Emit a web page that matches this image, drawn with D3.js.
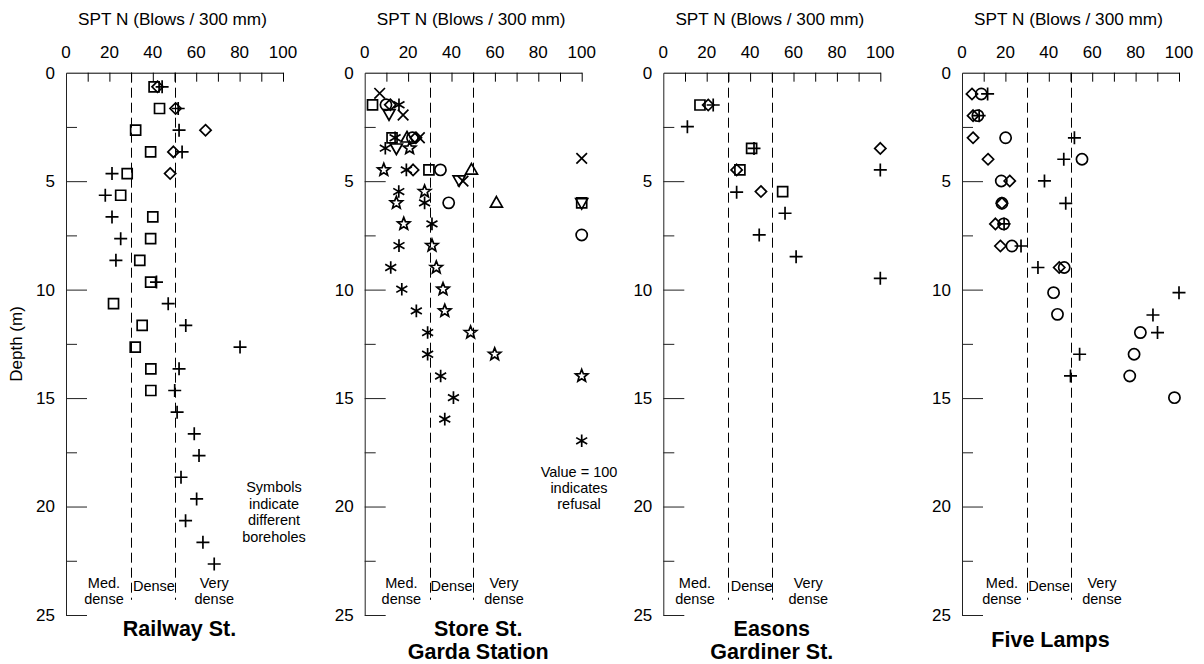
<!DOCTYPE html>
<html><head><meta charset="utf-8">
<script src="https://cdn.jsdelivr.net/npm/d3@7"></script>
<style>
body{margin:0;background:#fff}
svg{display:block}
text{font-family:"Liberation Sans",Arial,Helvetica,sans-serif;fill:#000}
</style>
</head><body>
<svg id="chart" width="1204" height="664"></svg>
<script>
// ---------- DATA: [depth (m), SPT N] ----------
const xTickLabels = [0, 20, 40, 60, 80, 100];
const xTicks = [10, 20, 30, 40, 50, 60, 70, 80, 90, 100];
const yMajorTicks = [0, 5, 10, 15, 20, 25];
const yMinorTicks = [2.5, 7.5, 12.5, 17.5, 22.5];
const densityBounds = [30, 50];

// Railway St.
const railwaySquares = [[0.65,40.6],[1.65,43.1],[2.65,32.1],[3.65,39.0],[4.65,28.2],[5.65,25.2],[6.65,40.0],[7.65,39.0],[8.65,34.0],[9.65,39.0],[10.65,21.9],[11.65,35.1],[12.65,31.9],[13.65,39.1],[14.65,39.1]];
const railwayPluses = [[0.65,44.3],[1.65,51.7],[2.65,52.1],[3.65,53.5],[4.65,21.2],[5.65,18.1],[6.65,21.2],[7.65,25.2],[8.65,23.0],[9.65,41.7],[10.65,47.1],[11.65,55.2],[12.65,80.2],[13.65,52.1],[14.65,50.1],[15.65,51.2],[16.65,59.1],[17.65,61.3],[18.65,53.0],[19.65,60.2],[20.65,55.1],[21.65,63.1],[22.65,68.3]];
const railwayDiamonds = [[0.65,42.2],[1.65,50.5],[2.65,64.3],[3.65,49.5],[4.65,48.0]];

// Store St. Garda Station
const storeCrosses = [[0.95,6.9],[1.95,17.7],[3.0,25.2],[5.0,45.3],[3.95,100]];
const storeSquares = [[1.48,3.6],[3.0,12.6],[4.48,29.6],[6.0,100]];
const storeCircles = [[1.48,9.8],[3.0,22.0],[4.48,34.9],[6.0,38.7],[7.48,100]];
const storeDiamonds = [[1.48,11.8],[3.0,23.6],[4.48,22.3]];
const storeAsterisks = [[1.48,15.8],[3.0,14.0],[3.48,9.5],[4.48,19.2],[5.48,15.7],[6.0,27.6],[6.97,31.0],[7.97,15.8],[8.98,12.0],[9.98,17.1],[10.98,23.8],[11.98,29.0],[12.98,29.0],[13.98,35.0],[14.98,40.9],[15.97,36.9],[16.97,100]];
const storeTriDown = [[1.9,11.2],[3.48,14.6],[4.95,43.5],[6.0,100]];
const storeTriUp = [[3.0,19.5],[4.48,49.2],[6.0,60.7]];
const storeStars = [[3.48,20.7],[4.48,8.8],[5.48,27.6],[6.0,14.6],[6.97,18.0],[7.97,31.0],[8.98,33.0],[9.98,36.1],[10.98,36.9],[11.98,48.8],[12.98,59.9],[13.98,100]];

// Easons Gardiner St.
const easonsSquares = [[1.49,16.9],[3.49,40.7],[4.48,35.3],[5.48,55.0]];
const easonsDiamonds = [[1.49,20.7],[3.49,100],[4.48,33.8],[5.48,45.0]];
const easonsPluses = [[1.49,23.0],[2.49,11.1],[3.49,41.8],[4.48,100],[5.51,33.8],[6.48,56.1],[7.48,44.2],[8.48,61.2],[9.48,100]];

// Five Lamps
const lampsDiamonds = [[0.98,4.6],[1.98,5.1],[3.0,5.1],[3.99,12.0],[4.99,22.0],[6.02,18.4],[6.97,15.4],[7.99,17.7],[8.98,44.8]];
const lampsCircles = [[0.98,8.9],[1.98,7.3],[3.0,20.1],[3.99,55.3],[4.99,18.1],[6.02,18.4],[6.97,19.2],[7.99,23.0],[8.98,47.1],[10.14,42.2],[11.14,44.0],[11.98,82.2],[12.98,79.3],[13.98,77.3],[14.98,97.9]];
const lampsPluses = [[0.98,11.8],[1.98,7.9],[3.0,51.8],[3.99,46.9],[4.99,38.0],[6.02,47.8],[6.97,19.4],[7.99,27.2],[8.98,35.0],[10.14,100],[11.17,88.0],[11.98,90.1],[12.98,54.2],[13.98,50.0]];

const panelTitles = [["Railway St."], ["Store St.", "Garda Station"], ["Easons", "Gardiner St."], ["Five Lamps"]];

const panelSeries = [
  [["square", railwaySquares], ["plus", railwayPluses], ["diamond", railwayDiamonds]],
  [["cross", storeCrosses], ["square", storeSquares], ["circle", storeCircles], ["diamond", storeDiamonds],
   ["asterisk", storeAsterisks], ["triDown", storeTriDown], ["triUp", storeTriUp], ["star", storeStars]],
  [["square", easonsSquares], ["diamond", easonsDiamonds], ["plus", easonsPluses]],
  [["diamond", lampsDiamonds], ["circle", lampsCircles], ["plus", lampsPluses]]
];

// ---------- LAYOUT ----------
const panelLeft = [66, 364.7, 663.3, 962];
const panelW = 217;
const plotTop = 72.7, plotBottom = 615;
const titleDx = [5, 5, 0, -20];
const titleY = [628, 628, 628, 639];
const zoneLabelX = [[17.5, 40.5, 68.3], [16.9, 40, 64.2], [14.6, 40.7, 66.8], [18.4, 40.2, 64.5]];

const svg = d3.select("#chart");

function starPath(R, r) {
  let p = "";
  for (let i = 0; i < 10; i++) {
    const a = -Math.PI / 2 + i * Math.PI / 5;
    const rr = i % 2 === 0 ? R : r;
    p += (i === 0 ? "M" : "L") + (rr * Math.cos(a)).toFixed(2) + "," + (rr * Math.sin(a)).toFixed(2);
  }
  return p + "Z";
}
const symbolPaths = {
  square: "M-5,-5H5V5H-5Z",
  diamond: "M0,-5.6L5.6,0L0,5.6L-5.6,0Z",
  triUp: "M0,-6.3L6,4.2L-6,4.2Z",
  triDown: "M0,6.3L6,-4.2L-6,-4.2Z",
  plus: "M-6.5,0H6.5M0,-6.5V6.5",
  cross: "M-5.3,-5.3L5.3,5.3M-5.3,5.3L5.3,-5.3",
  asterisk: "M0,-6.3V6.3M-5.5,-3.2L5.5,3.2M-5.5,3.2L5.5,-3.2",
  star: starPath(6.5, 2.8)
};

panelSeries.forEach((series, i) => {
  const x = d3.scaleLinear().domain([0, 100]).range([panelLeft[i], panelLeft[i] + panelW]);
  const y = d3.scaleLinear().domain([0, 25]).range([plotTop, plotBottom]);
  const g = svg.append("g");

  // top axis: ticks pointing down
  g.append("g").attr("transform", `translate(0,${plotTop})`)
    .call(d3.axisTop(x).tickValues(xTicks).tickSizeInner(-9).tickSizeOuter(0).tickFormat(""))
    .call(a => a.selectAll("line,path").attr("stroke", "#000"));
  // top tick labels
  g.append("g").selectAll("text").data(xTickLabels).join("text")
    .attr("x", d => x(d)).attr("y", 58).attr("text-anchor", "middle")
    .style("font-size", "17px").text(d => d);
  // axis title
  g.append("text").attr("x", x(50) - 2).attr("y", 25)
    .attr("text-anchor", "middle").style("font-size", "17.2px").text("SPT N (Blows / 300 mm)");

  // left axis major
  g.append("g").attr("transform", `translate(${panelLeft[i]},0)`)
    .call(d3.axisLeft(y).tickValues(yMajorTicks).tickSizeInner(-21).tickSizeOuter(0).tickPadding(11))
    .call(a => a.selectAll("line,path").attr("stroke", "#222"))
    .call(a => a.selectAll("text").style("font-size", "17px").style("font-family", '"Liberation Sans",Arial,sans-serif').attr("fill", "#000"))
    .call(a => a.selectAll(".tick").filter(d => d === 0).select("line").remove());
  // left axis minor
  g.append("g").attr("transform", `translate(${panelLeft[i]},0)`)
    .call(d3.axisLeft(y).tickValues(yMinorTicks).tickSizeInner(-11).tickSizeOuter(0).tickFormat(""))
    .call(a => a.select(".domain").remove())
    .call(a => a.selectAll("line").attr("stroke", "#222"));

  // density bounds
  g.append("g").selectAll("line").data(densityBounds).join("line")
    .attr("x1", d => Math.round(x(d)) + 0.5).attr("x2", d => Math.round(x(d)) + 0.5)
    .attr("y1", plotTop).attr("y2", y(24.3))
    .attr("stroke", "#000").attr("stroke-width", 1).attr("stroke-dasharray", "10,5");

  // zone labels
  const zl = zoneLabelX[i];
  const lab = g.append("g").style("font-size", "14.5px").attr("text-anchor", "middle");
  lab.append("text").attr("x", x(zl[0])).attr("y", 588).text("Med.");
  lab.append("text").attr("x", x(zl[0])).attr("y", 603.5).text("dense");
  lab.append("text").attr("x", x(zl[1])).attr("y", 590.5).text("Dense");
  lab.append("text").attr("x", x(zl[2])).attr("y", 588).text("Very");
  lab.append("text").attr("x", x(zl[2])).attr("y", 603.5).text("dense");

  // title
  const tt = g.append("text").attr("text-anchor", "middle").style("font-size", "21.5px").style("font-weight", "bold");
  panelTitles[i].forEach((t, k) => {
    tt.append("tspan").attr("x", x(50) + titleDx[i]).attr("y", titleY[i] + 7.5 + k * 23).text(t);
  });

  // symbols
  series.forEach(([type, pts]) => {
    const sg = g.append("g").attr("fill", "none").attr("stroke", "#000").attr("stroke-width", 1.7);
    if (type === "circle") {
      sg.selectAll("circle").data(pts).join("circle")
        .attr("cx", d => x(d[1])).attr("cy", d => y(d[0])).attr("r", 5.6);
    } else {
      sg.selectAll("path").data(pts).join("path")
        .attr("transform", d => `translate(${x(d[1])},${y(d[0])})`)
        .attr("d", symbolPaths[type]);
    }
  });
});

// y-axis title
svg.append("text").attr("transform", "translate(22,344) rotate(-90)")
  .attr("text-anchor", "middle").style("font-size", "17px").text("Depth (m)");

// notes
const note1 = svg.append("text").attr("text-anchor", "middle").style("font-size", "14.5px");
["Symbols", "indicate", "different", "boreholes"].forEach((t, k) =>
  note1.append("tspan").attr("x", 274).attr("y", 492 + k * 16.7).text(t));
const note2 = svg.append("text").attr("text-anchor", "middle").style("font-size", "14.5px");
["Value = 100", "indicates", "refusal"].forEach((t, k) =>
  note2.append("tspan").attr("x", 579).attr("y", 477 + k * 16).text(t));
</script>
</body></html>
